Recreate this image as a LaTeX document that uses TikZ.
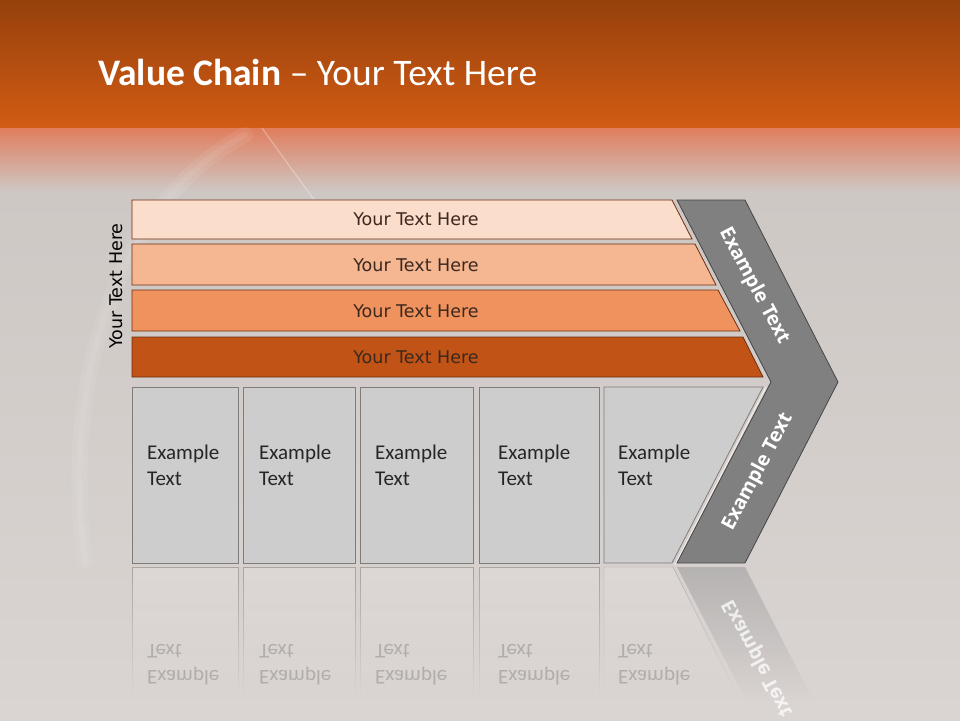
\documentclass[tikz,border=0pt]{standalone}
\usepackage{fontspec}
\usepackage{xcolor}
\usepackage{tikz}
\usetikzlibrary{fadings}
\setmainfont{Carlito}
\newfontfamily\barfont{DejaVu Sans}
\newfontfamily\chevfont{Open Sans}
\definecolor{rustTop}{RGB}{150,64,12}
\definecolor{rustMid}{RGB}{210,92,20}
\definecolor{salmon}{RGB}{224,126,94}
\definecolor{slideGray}{RGB}{206,200,197}
\definecolor{slideLow}{RGB}{218,212,210}
\definecolor{barA}{RGB}{250,221,203}
\definecolor{barB}{RGB}{245,182,146}
\definecolor{barC}{RGB}{240,146,93}
\definecolor{barD}{RGB}{192,83,21}
\definecolor{barEdge}{RGB}{110,45,15}
\definecolor{barInk}{RGB}{60,40,30}
\definecolor{cellFill}{RGB}{205,205,205}
\definecolor{cellEdge}{RGB}{128,124,120}
\definecolor{chevFill}{RGB}{128,128,128}
\definecolor{chevEdge}{RGB}{70,70,70}
\tikzfading[name=fade down,top color=transparent!45,bottom color=transparent!100]

\begin{document}
\begin{tikzpicture}[x=1pt,y=-1pt,
  bar/.style={draw=barEdge,line width=0.8pt},
  bartext/.style={font=\barfont\fontsize{17.5}{20}\selectfont,text=barInk},
  cell/.style={draw=cellEdge,fill=cellFill,line width=0.8pt},
  celltext/.style={anchor=west,align=left,inner sep=0,font=\fontsize{21}{26}\selectfont,text=black!85},
  chev/.style={draw=chevEdge,fill=chevFill,line width=0.8pt},
  chevtext/.style={font=\chevfont\bfseries\fontsize{19.5}{22}\selectfont,text=white},
  mirror/.style={celltext,yscale=-1,opacity=0.22},
  glow/.style={white,line cap=round,opacity=0.3}]
% backdrop
\useasboundingbox (0,0) rectangle (960,720);
\shade[top color=rustTop,bottom color=rustMid] (0,0) rectangle (960,128);
\shade[top color=salmon,bottom color=slideGray] (0,128) rectangle (960,192);
\shade[top color=slideGray,bottom color=slideLow] (0,192) rectangle (960,720);
\draw[glow,line width=1.2pt] (262,128) .. controls (285,160) .. (318,205);
\draw[glow,line width=16pt,opacity=0.07] (245,135) .. controls (120,200) and (60,380) .. (85,560);
\draw[glow,line width=6pt,opacity=0.07] (245,135) .. controls (120,200) and (60,380) .. (85,560);
\node[anchor=base west,text=white,font=\fontsize{37.5}{44}\selectfont,inner sep=0] (title) at (98,85) {\textbf{Value Chain} – Your Text Here};
% stacked bars
\draw[bar,fill=barA] (132,200) -- (672,200) -- (692,239) -- (132,239) -- cycle;
\draw[bar,fill=barB] (132,244) -- (695,244) -- (716,285) -- (132,285) -- cycle;
\draw[bar,fill=barC] (132,290) -- (718,290) -- (740,331) -- (132,331) -- cycle;
\draw[bar,fill=barD] (132,337) -- (743,337) -- (763,377) -- (132,377) -- cycle;
\node[bartext] (row1) at (416,219.5) {Your Text Here};
\node[bartext] (row2) at (416,265) {Your Text Here};
\node[bartext] (row3) at (416,311) {Your Text Here};
\node[bartext] (row4) at (416,357) {Your Text Here};
\node[bartext,rotate=90,text=black] (side) at (116,286) {Your Text Here};
% activity cells
\draw[cell] (132,387) rectangle (238,563);
\draw[cell] (243,387) rectangle (355,563);
\draw[cell] (360,387) rectangle (473,563);
\draw[cell] (479,387) rectangle (599,563);
\draw[cell] (604,387) -- (763,387) -- (672,563) -- (604,563) -- cycle;
\node[celltext] (cell1) at (147,465) {Example\\Text};
\node[celltext] (cell2) at (259,465) {Example\\Text};
\node[celltext] (cell3) at (375,465) {Example\\Text};
\node[celltext] (cell4) at (498,465) {Example\\Text};
\node[celltext] (cell5) at (618,465) {Example\\Text};
% margin chevron
\draw[white,opacity=0.6,line width=1.2pt] (766,387) -- (675,565);
\draw[chev] (677,200) -- (745,200) -- (838,382) -- (745,563) -- (677,563) -- (771,382) -- cycle;
\node[chevtext,rotate=-62] (upper) at (754,286) {Example Text};
\node[chevtext,rotate=62] (lower) at (758,472) {Example Text};
% reflection
\draw[cellEdge,fill=white,fill opacity=0.25,path fading=fade down] (132,567) rectangle (238,695);
\draw[cellEdge,fill=white,fill opacity=0.25,path fading=fade down] (243,567) rectangle (355,695);
\draw[cellEdge,fill=white,fill opacity=0.25,path fading=fade down] (360,567) rectangle (473,695);
\draw[cellEdge,fill=white,fill opacity=0.25,path fading=fade down] (479,567) rectangle (599,695);
\draw[cellEdge,fill=white,fill opacity=0.25,path fading=fade down] (604,567) -- (673,567) -- (737,695) -- (604,695) -- cycle;
\fill[chevFill!80!white,path fading=fade down] (677,567) -- (745,567) -- (813,700) -- (746,700) -- cycle;
\node[mirror] (echo1) at (147,665) {Example\\Text};
\node[mirror] (echo2) at (259,665) {Example\\Text};
\node[mirror] (echo3) at (375,665) {Example\\Text};
\node[mirror] (echo4) at (498,665) {Example\\Text};
\node[mirror] (echo5) at (618,665) {Example\\Text};
\node[chevtext,rotate=-62,yscale=-1,opacity=0.75] (echo6) at (758,658) {Example Text};
\end{tikzpicture}
\end{document}
